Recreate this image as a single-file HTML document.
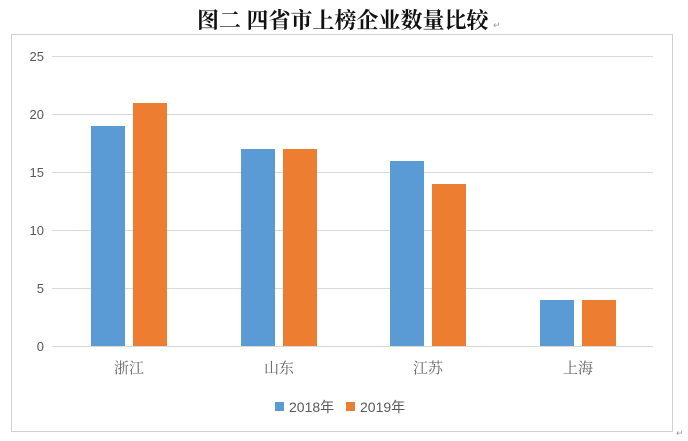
<!DOCTYPE html>
<html><head><meta charset="utf-8"><style>
body{margin:0;background:#fff;}
</style></head><body>
<svg width="688" height="441" xmlns="http://www.w3.org/2000/svg" style="display:block">
<rect width="688" height="441" fill="#fff"/>
<text x="197" y="28" font-family="'Noto Serif CJK SC',serif" font-weight="bold" font-size="22" fill="#111">图二  四省市上榜企业数量比较</text>
<text x="493" y="28" font-family="'Liberation Sans',sans-serif" font-size="9" fill="#999">↵</text>
<rect x="11.5" y="34.5" width="661" height="397" fill="none" stroke="#d0d0d0" stroke-width="1"/>
<g stroke="#d9d9d9" stroke-width="1">
<line x1="52" x2="653" y1="56.5" y2="56.5"/>
<line x1="52" x2="653" y1="114.5" y2="114.5"/>
<line x1="52" x2="653" y1="172.5" y2="172.5"/>
<line x1="52" x2="653" y1="230.5" y2="230.5"/>
<line x1="52" x2="653" y1="288.5" y2="288.5"/>
<line x1="52" x2="653" y1="346.5" y2="346.5"/>
</g>
<g font-family="'Liberation Sans Narrow','Liberation Sans',sans-serif" font-size="13" fill="#595959" text-anchor="end">
<text x="44" y="61">25</text><text x="44" y="119">20</text><text x="44" y="177">15</text>
<text x="44" y="235">10</text><text x="44" y="293">5</text><text x="44" y="351">0</text>
</g>
<g fill="#5b9bd5">
<rect x="91" y="126" width="34" height="220"/>
<rect x="241" y="149" width="34" height="197"/>
<rect x="390" y="161" width="34" height="185"/>
<rect x="540" y="300" width="34" height="46"/>
</g>
<g fill="#ed7d31">
<rect x="133" y="103" width="34" height="243"/>
<rect x="283" y="149" width="34" height="197"/>
<rect x="432" y="184" width="34" height="162"/>
<rect x="582" y="300" width="34" height="46"/>
</g>
<g font-family="'Noto Serif CJK SC',serif" font-size="15" fill="#666" text-anchor="middle">
<text x="129" y="373">浙江</text><text x="279" y="373">山东</text>
<text x="428" y="373">江苏</text><text x="578" y="373">上海</text>
</g>
<rect x="275" y="402" width="9" height="9" fill="#5b9bd5"/>
<rect x="346" y="402" width="9" height="9" fill="#ed7d31"/>
<g font-family="'Liberation Sans','Noto Sans CJK SC',sans-serif" font-size="14" fill="#595959">
<text x="289" y="412">2018年</text><text x="360" y="412">2019年</text>
</g>
<text x="676" y="436" font-family="'Liberation Sans',sans-serif" font-size="9" fill="#999">↵</text>
</svg>
</body></html>
